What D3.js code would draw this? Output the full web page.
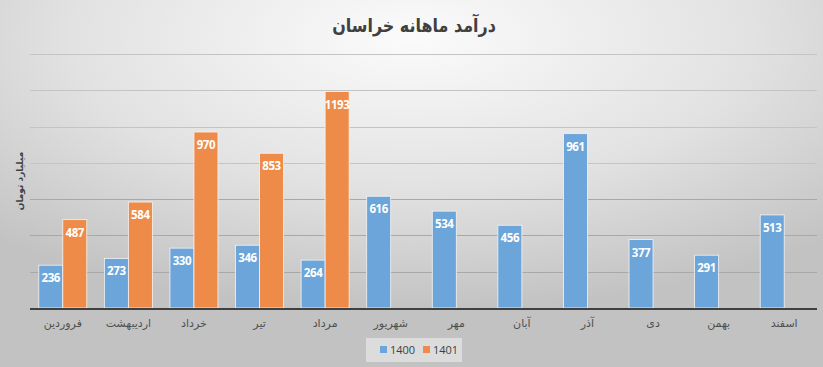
<!DOCTYPE html>
<meta charset="utf-8">
<style>
body { margin: 0; }
svg { display: block; }
.lbl { font: bold 11.5px "Open Sans", sans-serif; fill: #fff; text-anchor: middle; letter-spacing: -0.4px; }
.xlab { font: 11px "DejaVu Sans", sans-serif; fill: #505050; text-anchor: middle; }
</style>
<svg id="chart"></svg>
<script src="https://d3js.org/d3.v7.min.js"></script>
<script>
var months = ["فروردین", "اردیبهشت", "خرداد", "تیر", "مرداد", "شهریور", "مهر", "آبان", "آذر", "دی", "بهمن", "اسفند"];
var v1400 = [236, 273, 330, 346, 264, 616, 534, 456, 961, 377, 291, 513];
var v1401 = [487, 584, 970, 853, 1193, null, null, null, null, null, null, null];
var seriesNames = ["1400", "1401"];
var colors = ["#6ca5d9", "#ef8b48"];
var yTicks = [200, 400, 600, 800, 1000, 1200, 1400];

var W = 823, H = 367;
var plotL = 30, plotR = 817, plotT = 54, plotB = 308;

var svg = d3.select("#chart").attr("width", W).attr("height", H);

// background gradient
var defs = svg.append("defs");
var rg = defs.append("radialGradient").attr("id", "bg")
    .attr("cx", "50%").attr("cy", "10%").attr("r", "75%")
    .attr("gradientUnits", "objectBoundingBox");
rg.append("stop").attr("offset", "0%").attr("stop-color", "#fbfbfb");
rg.append("stop").attr("offset", "55%").attr("stop-color", "#e2e2e2");
rg.append("stop").attr("offset", "100%").attr("stop-color", "#c2c2c2");
svg.append("rect").attr("width", W).attr("height", H).attr("fill", "url(#bg)");

var x = d3.scaleBand().domain(months).range([plotL, plotR]).paddingInner(0.268).paddingOuter(0.134);
var x1 = d3.scaleBand().domain(seriesNames).range([0, x.bandwidth()]);
var y = d3.scaleLinear().domain([0, 1400]).range([plotB, plotT]);

// gridlines
svg.append("g").selectAll("line").data(yTicks).join("line")
    .attr("x1", plotL).attr("x2", plotR)
    .attr("y1", function(d) { return Math.round(y(d)) + 0.5; })
    .attr("y2", function(d) { return Math.round(y(d)) + 0.5; })
    .attr("stroke", function(d) { return d <= 600 ? "#a8a8a8" : "#c4c4c4"; }).attr("stroke-width", 1);

var series = [v1400, v1401];
var groups = svg.append("g").selectAll("g").data(series).join("g")
    .attr("fill", function(d, i) { return colors[i]; });

groups.each(function(vals, si) {
  var g = d3.select(this);
  var pts = vals.map(function(v, i) { return {m: months[i], v: v}; }).filter(function(d) { return d.v != null; });
  g.selectAll("rect").data(pts).join("rect")
      .attr("x", function(d) { return x(d.m) + x1(seriesNames[si]); })
      .attr("y", function(d) { return y(d.v); })
      .attr("width", x1.bandwidth())
      .attr("height", function(d) { return plotB - y(d.v); })
      .attr("stroke", "#f4f4f4").attr("stroke-width", 0.8);
  g.selectAll("text").data(pts).join("text")
      .attr("class", "lbl")
      .attr("x", function(d) { return x(d.m) + x1(seriesNames[si]) + x1.bandwidth() / 2; })
      .attr("y", function(d) { return y(d.v) + 17; })
      .text(function(d) { return d.v; });
});

// x axis
svg.append("line").attr("x1", plotL).attr("x2", plotR).attr("y1", plotB + 1).attr("y2", plotB + 1)
    .attr("stroke", "#404040").attr("stroke-width", 2);
svg.append("g").selectAll("text").data(months).join("text")
    .attr("class", "xlab")
    .attr("x", function(d) { return x(d) + x.bandwidth() / 2; })
    .attr("y", 327)
    .text(function(d) { return d; });

// title
svg.append("text").attr("transform", "translate(414,32) scale(0.84,1)")
    .attr("text-anchor", "middle")
    .style("font", "bold 19px 'DejaVu Sans', sans-serif").attr("fill", "#404040")
    .text("درآمد ماهانه خراسان");

// y axis title
svg.append("text").attr("transform", "translate(23,181) rotate(-90)")
    .attr("text-anchor", "middle")
    .style("font", "bold 9px 'DejaVu Sans', sans-serif").attr("fill", "#404040")
    .text("میلیارد تومان");

// legend
var lg = svg.append("g");
lg.append("rect").attr("x", 366).attr("y", 338).attr("width", 96).attr("height", 24)
    .attr("fill", "#ececec").attr("opacity", 0.6);
var items = lg.selectAll("g").data(seriesNames).join("g")
    .attr("transform", function(d, i) { return "translate(" + (380 + i * 43) + ",350)"; });
items.append("rect").attr("x", 0).attr("y", -4).attr("width", 7).attr("height", 7)
    .attr("fill", function(d, i) { return colors[i]; });
items.append("text").attr("x", 10).attr("y", 4)
    .style("font", "11px 'Open Sans', sans-serif").attr("fill", "#404040")
    .text(function(d) { return d; });
</script>
